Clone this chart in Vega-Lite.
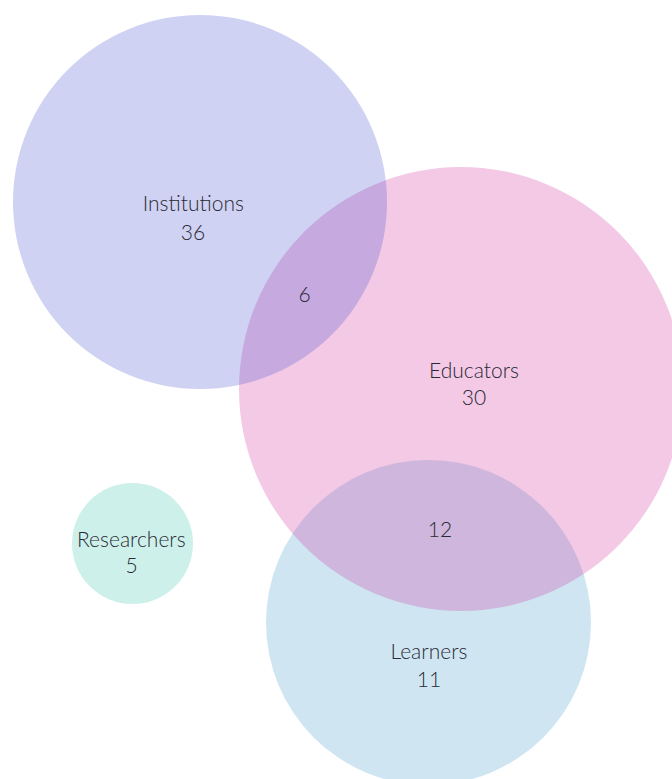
{
  "$schema": "https://vega.github.io/schema/vega-lite/v6.json",
  "width": 672,
  "height": 779,
  "autosize": {"type": "none"},
  "padding": 0,
  "background": "white",
  "view": {"stroke": null},
  "datasets": {
    "circles": [
      {"set": "Learners", "cx": 428.5, "cy": 622.5, "r": 162.5},
      {"set": "Educators", "cx": 461, "cy": 389, "r": 222},
      {"set": "Institutions", "cx": 200, "cy": 202, "r": 187},
      {"set": "Researchers", "cx": 132.5, "cy": 543.5, "r": 60.5}
    ],
    "labels": [
      {"text": "Institutions", "lx": 193.3, "ly": 211},
      {"text": "36", "lx": 193, "ly": 240},
      {"text": "6", "lx": 304.5, "ly": 301.7},
      {"text": "Educators", "lx": 474, "ly": 378},
      {"text": "30", "lx": 474, "ly": 405},
      {"text": "12", "lx": 440, "ly": 537},
      {"text": "Learners", "lx": 429, "ly": 659.3},
      {"text": "11", "lx": 429, "ly": 686.7},
      {"text": "Researchers", "lx": 131.3, "ly": 547.3},
      {"text": "5", "lx": 131.5, "ly": 572.7}
    ]
  },
  "layer": [
    {
      "data": {"name": "circles"},
      "mark": {"type": "point", "shape": "circle", "filled": true, "fillOpacity": 0.25, "opacity": 1, "strokeWidth": 0},
      "encoding": {
        "x": {"field": "cx", "type": "quantitative", "scale": {"domain": [0, 672], "nice": false, "zero": false}, "axis": null},
        "y": {"field": "cy", "type": "quantitative", "scale": {"domain": [0, 779], "nice": false, "zero": false, "reverse": true}, "axis": null},
        "size": {"field": "r", "type": "quantitative", "scale": {"type": "pow", "exponent": 2, "domain": [0, 250], "range": [0, 250000]}, "legend": null},
        "color": {"field": "set", "type": "nominal", "scale": {"domain": ["Institutions", "Educators", "Learners", "Researchers"], "range": ["#3f4bcb", "#cf279b", "#3f9bcb", "#37c7ab"]}, "legend": null}
      }
    },
    {
      "data": {"name": "labels"},
      "mark": {"type": "text", "font": "Lato", "fontWeight": 300, "fontSize": 21, "baseline": "alphabetic", "align": "center", "color": "#2a2a35"},
      "encoding": {
        "x": {"field": "lx", "type": "quantitative", "scale": {"domain": [0, 672], "nice": false, "zero": false}, "axis": null},
        "y": {"field": "ly", "type": "quantitative", "scale": {"domain": [0, 779], "nice": false, "zero": false, "reverse": true}, "axis": null},
        "text": {"field": "text"}
      }
    }
  ]
}
